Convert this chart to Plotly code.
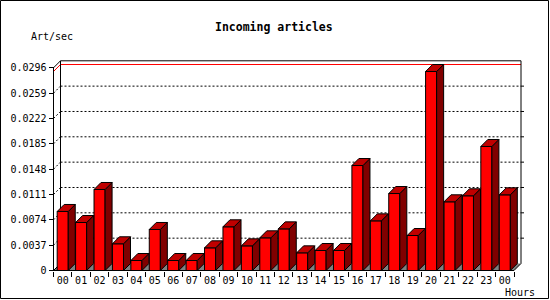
import plotly.graph_objects as go

hours = ["00", "01", "02", "03", "04", "05", "06", "07", "08", "09", "10", "11",
         "12", "13", "14", "15", "16", "17", "18", "19", "20", "21", "22", "23", "00"]
rates = [0.00862, 0.00701, 0.01183, 0.00390, 0.00146, 0.00599, 0.00146, 0.00146,
         0.00331, 0.00638, 0.00360, 0.00477, 0.00608, 0.00258, 0.00292, 0.00292,
         0.01533, 0.00725, 0.01124, 0.00511, 0.02906, 0.01003, 0.01091, 0.01811, 0.01105]
ytick_vals = [0, 0.0037, 0.0074, 0.0111, 0.0148, 0.0185, 0.0222, 0.0259, 0.0296]
ytick_text = ["0", "0.0037", "0.0074", "0.0111", "0.0148", "0.0185", "0.0222", "0.0259", "0.0296"]

W, H = 550, 300
PX_X = 18.42          # pixels per category
PX_Y = 6848.0         # pixels per unit
X0_PX = 53.5          # pixel of x = -0.5
Y0_PX = 270.5         # pixel of y = 0
DX = 7 / PX_X
DY = 7 / PX_Y
BW = 0.6

n = len(hours)
xs = list(range(n))
xl, xr = -0.5, n - 0.5
ytop = ytick_vals[-1]
ymax = max(rates)

x_range = [xl - X0_PX / PX_X, xl + (W - X0_PX) / PX_X]
y_range = [-(H - Y0_PX) / PX_Y, Y0_PX / PX_Y]

fig = go.Figure()

shapes = []
def line(x0, y0, x1, y1, color="black", dash=None, layer="below"):
    d = dict(type="line", xref="x", yref="y", x0=x0, y0=y0, x1=x1, y1=y1,
             line=dict(color=color, width=1), layer=layer)
    if dash:
        d["line"]["dash"] = dash
    shapes.append(d)

# floor
shapes.append(dict(type="path", xref="x", yref="y", layer="below",
                   path=f"M{xl},0 L{xr},0 L{xr+DX},{DY} L{xl+DX},{DY} Z",
                   fillcolor="#808080", line=dict(width=0)))
# grid lines on back wall and left wall
for v in ytick_vals[1:-1]:
    line(xl + DX, v + DY, xr + DX, v + DY, dash="2px,2px")
    line(xl, v, xl + DX, v + DY, dash="2px,2px")
    line(xr + DX, v + DY, xr + DX + 3 / PX_X, v + DY, layer="above")
# max line
line(xl, ymax, xl + DX, ymax + DY, color="red")
line(xl + DX, ymax + DY, xr + DX, ymax + DY, color="red")
# wall edges
line(xl + DX, DY, xl + DX, ytop + DY)
line(xl + DX, ytop + DY, xr + DX, ytop + DY)
line(xl, ytop, xl + DX, ytop + DY)
line(xr + DX, DY, xr + DX, ytop + DY, layer="above")
line(xr, 0, xr + DX, DY, layer="above")
line(xl, 0, xl + DX, DY)
# front axes
line(xl, 0, xl, ytop, layer="above")
line(xl, 0, xr, 0, layer="above")

# outer frame
shapes.append(dict(type="rect", xref="paper", yref="paper",
                   x0=0.5 / W, x1=548.5 / W, y0=1.5 / H, y1=1 - 0.5 / H,
                   line=dict(color="black", width=1), layer="above"))

# front faces
fig.add_trace(go.Bar(x=xs, y=rates, width=BW, marker=dict(color="#ff0000",
              line=dict(color="black", width=1)), hoverinfo="skip"))

# side and top faces
sx, sy = [], []
tx, ty = [], []
for x, v in zip(xs, rates):
    r = x + BW / 2
    l = x - BW / 2
    sx += [r, r + DX, r + DX, r, r, None]
    sy += [0, DY, v + DY, v, 0, None]
    tx += [l, l + DX, r + DX, r, l, None]
    ty += [v, v + DY, v + DY, v, v, None]
fig.add_trace(go.Scatter(x=sx, y=sy, mode="lines", fill="toself", fillcolor="#800000",
                         line=dict(color="black", width=1), hoverinfo="skip"))
fig.add_trace(go.Scatter(x=tx, y=ty, mode="lines", fill="toself", fillcolor="#c00000",
                         line=dict(color="black", width=1), hoverinfo="skip"))

font = "DejaVu Sans Mono"
fig.update_layout(
    width=W, height=H, margin=dict(l=0, r=0, t=0, b=0),
    paper_bgcolor="white", plot_bgcolor="white", showlegend=False,
    shapes=shapes,
    xaxis=dict(range=x_range, anchor="free", position=(H - Y0_PX) / H,
               tickmode="array", tickvals=xs, ticktext=hours,
               ticks="outside", ticklen=0, tickcolor="rgba(0,0,0,0)",
               minor=dict(tickmode="array", tickvals=[x + 0.5 for x in [-1] + xs],
                          ticks="outside", ticklen=5, tickcolor="black", tickwidth=1),
               showgrid=False, zeroline=False, showline=False,
               tickfont=dict(family=font, size=10, color="black"), fixedrange=True),
    yaxis=dict(range=y_range, anchor="free", position=X0_PX / W,
               tickmode="array", tickvals=ytick_vals, ticktext=ytick_text,
               ticks="outside", ticklen=5, tickcolor="black", tickwidth=1,
               showgrid=False, zeroline=False, showline=False,
               tickfont=dict(family=font, size=10, color="black"), fixedrange=True),
    annotations=[
        dict(text="<b>Incoming articles</b>", xref="paper", yref="paper",
             x=274 / W, y=1 - 26.7 / H, xanchor="center", yanchor="middle",
             showarrow=False, font=dict(family=font, size=11.5, color="black")),
        dict(text="Art/sec", xref="paper", yref="paper",
             x=29 / W, y=1 - 36.7 / H, xanchor="left", yanchor="middle",
             showarrow=False, font=dict(family=font, size=10, color="black")),
        dict(text="Hours", xref="paper", yref="paper",
             x=503 / W, y=1 - 292.3 / H, xanchor="left", yanchor="middle",
             showarrow=False, font=dict(family=font, size=10, color="black")),
    ],
)

fig.write_html("out.html")
